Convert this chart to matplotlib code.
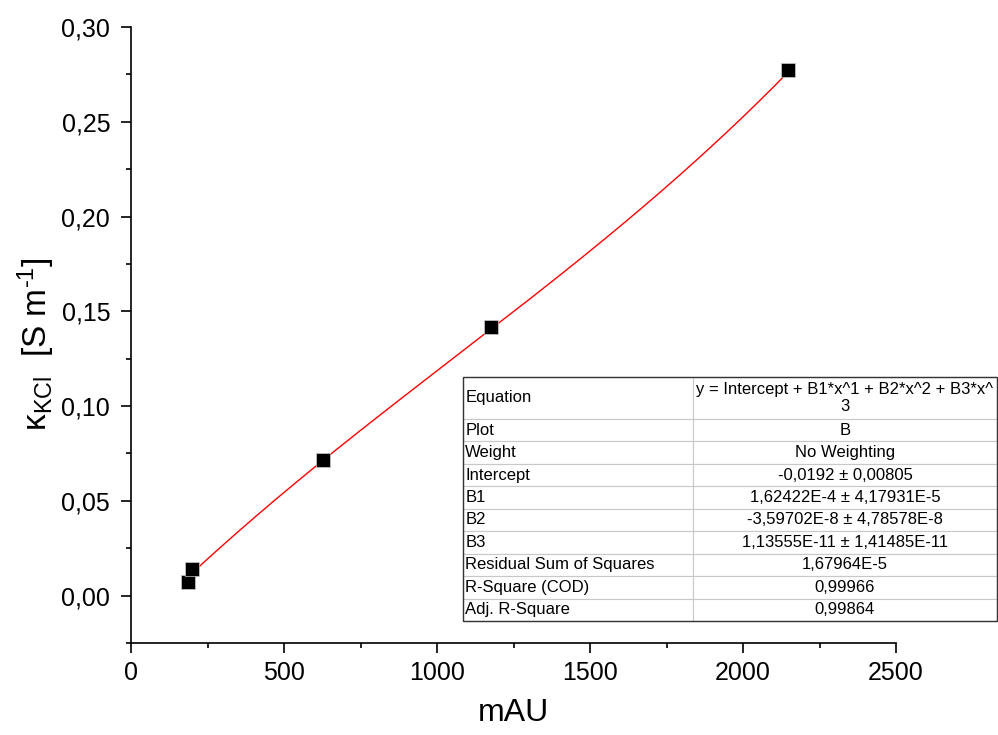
import numpy as np
import matplotlib.pyplot as plt
from matplotlib.ticker import MultipleLocator, FuncFormatter
from matplotlib.patches import Rectangle

plt.rcParams['font.family'] = ['Liberation Sans', 'DejaVu Sans']
plt.rcParams['mathtext.fontset'] = 'custom'
plt.rcParams['mathtext.rm'] = 'Liberation Sans'
plt.rcParams['mathtext.it'] = 'Liberation Sans:italic'

# messpunkte
mau = [186, 199, 627, 1176, 2147]
kappa = [0.0074, 0.0142, 0.0717, 0.1418, 0.2773]

# fit-koeffizienten (Polynom 3. Grades)
intercept = -0.0192
b1 = 1.62422e-4
b2 = -3.59702e-8
b3 = 1.13555e-11

tabelle_links = ['Equation', 'Plot', 'Weight', 'Intercept', 'B1', 'B2', 'B3',
                 'Residual Sum of Squares', 'R-Square (COD)', 'Adj. R-Square']
tabelle_rechts = ['y = Intercept + B1*x^1 + B2*x^2 + B3*x^\n3', 'B', 'No Weighting',
                  '-0,0192 \u00b1 0,00805', '1,62422E-4 \u00b1 4,17931E-5',
                  '-3,59702E-8 \u00b1 4,78578E-8', '1,13555E-11 \u00b1 1,41485E-11',
                  '1,67964E-5', '0,99966', '0,99864']

fig = plt.figure(figsize=(9.98, 7.35), dpi=100)
ax = fig.add_axes([0.1313, 0.1252, 0.7665, 0.8381])

xs = np.linspace(min(mau), max(mau), 300)
ys = intercept + b1 * xs + b2 * xs**2 + b3 * xs**3
ax.plot(xs, ys, color='red', lw=1.0, zorder=2)
ax.plot(mau, kappa, 's', color='black', ms=10, mec='#cccccc', mew=0.5, zorder=3)

ax.set_xlim(0, 2500)
ax.set_ylim(-0.025, 0.30)
ax.spines['top'].set_visible(False)
ax.spines['right'].set_visible(False)
for s in ['left', 'bottom']:
    ax.spines[s].set_linewidth(1.2)

ax.xaxis.set_major_locator(MultipleLocator(500))
ax.xaxis.set_minor_locator(MultipleLocator(250))
ax.yaxis.set_major_locator(MultipleLocator(0.05))
ax.yaxis.set_minor_locator(MultipleLocator(0.025))
ax.yaxis.set_major_formatter(FuncFormatter(lambda v, p: f'{v:.2f}'.replace('.', ',').replace('-0,00', '0,00')))
ax.tick_params(which='major', direction='out', length=7, width=1.2, labelsize=18)
ax.tick_params(axis='x', which='major', pad=6)
ax.tick_params(axis='y', which='major', pad=8)
ax.tick_params(which='minor', direction='out', length=3.5, width=1.2)

ax.set_xlabel('mAU', fontsize=23)
ax.xaxis.set_label_coords(0.5, -0.09)
ax.set_ylabel('\u03ba$_{\\mathrm{KCl}}$  [S m$^{\u2010\\mathrm{1}}$]', fontsize=24)
ax.yaxis.set_label_coords(-0.097, 0.485)

# ergebnistabelle
zellen = [[a, b] for a, b in zip(tabelle_links, tabelle_rechts)]
tab = ax.table(cellText=zellen, colWidths=[230, 304], cellLoc='center',
               bbox=[0.434, 0.0357, 0.698, 0.3961])
tab.auto_set_font_size(False)
tab.set_fontsize(12)
for (r, c), cell in tab.get_celld().items():
    cell.set_edgecolor('#c8c8c8')
    cell.set_linewidth(0.8)
    if r == 0:
        cell.set_height(cell.get_height() * 1.87)
    if c == 0:
        cell.get_text().set_ha('left')
        cell.PAD = 0.01
tab.set_clip_on(False)
rahmen = Rectangle((0.434, 0.0357), 0.698, 0.3961, transform=ax.transAxes,
                   fill=False, edgecolor='#333333', lw=1.0, clip_on=False, zorder=5)
ax.add_patch(rahmen)

plt.savefig('out.png', dpi=100)
